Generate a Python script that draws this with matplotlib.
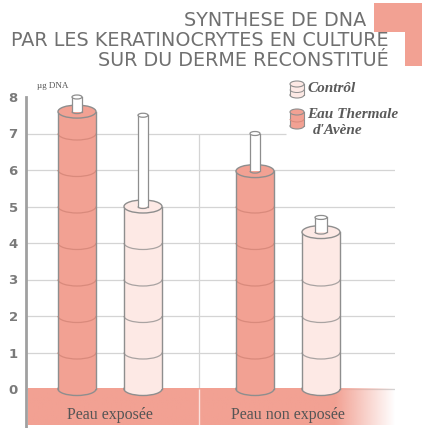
import matplotlib
matplotlib.use("Agg")
import matplotlib.pyplot as plt
import numpy as np
from matplotlib.patches import Ellipse, Rectangle, Arc, Polygon

# data
groups = ["Peau exposée", "Peau non exposée"]
series = ["Contrôl", "Eau Thermale\nd'Avène"]
eau_values = [7.6, 5.97]
eau_err_top = [8.0, 7.0]
ctrl_values = [5.0, 4.3]
ctrl_err_top = [7.5, 4.7]
y_ticks = [0, 1, 2, 3, 4, 5, 6, 7, 8]

RED = "#f2a193"
PINK = "#fde9e5"
EDGE = "#8e8e8e"
GRID = "#d4d4d4"
TEXT = "#707070"

W, H = 422, 428
fig = plt.figure(figsize=(W / 100, H / 100), dpi=100)

# decorative overlay in pixel coordinates (y up)
deco = fig.add_axes([0, 0, 1, 1])
deco.set_xlim(0, W)
deco.set_ylim(0, H)
deco.axis("off")
deco.add_patch(Polygon([(374, H - 3), (W, H - 3), (W, H - 66), (405, H - 66),
                        (405, H - 32), (374, H - 32)], closed=True, color=RED, lw=0))


def cylinder(ax, x, top, width, eh, face, seg_color, bottom=0.0, segments=True, lw=1.0, z=3):
    ax.add_patch(Ellipse((x, bottom), width, eh, facecolor=face, edgecolor=EDGE, lw=lw, zorder=z))
    ax.add_patch(Rectangle((x - width / 2, bottom), width, top - bottom, facecolor=face,
                           edgecolor="none", zorder=z))
    ax.plot([x - width / 2] * 2, [bottom, top], color=EDGE, lw=lw, zorder=z + 0.2, clip_on=False)
    ax.plot([x + width / 2] * 2, [bottom, top], color=EDGE, lw=lw, zorder=z + 0.2, clip_on=False)
    if segments:
        k = bottom + 1
        while k < top - 0.3:
            ax.add_patch(Arc((x, k), width, eh, theta1=180, theta2=360, color=seg_color,
                             lw=0.9, zorder=z + 0.1))
            k += 1
    ax.add_patch(Ellipse((x, top), width, eh, facecolor=face, edgecolor=EDGE, lw=lw, zorder=z + 0.3))


def stick(ax, x, base, top, width, eh):
    ax.add_patch(Rectangle((x - width / 2, base), width, top - base, facecolor="white",
                           edgecolor="none", zorder=4))
    ax.plot([x - width / 2] * 2, [base, top], color=EDGE, lw=0.9, zorder=4.1)
    ax.plot([x + width / 2] * 2, [base, top], color=EDGE, lw=0.9, zorder=4.1)
    ax.add_patch(Arc((x, base), width, eh, theta1=180, theta2=360, color=EDGE, lw=0.9, zorder=4.1))
    ax.add_patch(Ellipse((x, top), width, eh, facecolor="white", edgecolor=EDGE, lw=0.9, zorder=4.2))


# legend icons (pixel coords)
cylinder(deco, 297, H - 84, 14, 6, PINK, EDGE, bottom=H - 95, segments=False, lw=0.8)
deco.add_patch(Arc((297, H - 89.5), 14, 6, theta1=180, theta2=360, color=EDGE, lw=0.7, zorder=3.2))
cylinder(deco, 297, H - 112, 14, 6, RED, "#d98a7c", bottom=H - 126, segments=False, lw=0.8)
deco.add_patch(Arc((297, H - 119), 14, 6, theta1=180, theta2=360, color="#d98a7c", lw=0.7, zorder=3.2))
legend_style = dict(fontsize=11, family="Liberation Serif", style="italic", weight="bold",
                    color="#5a5a5a", va="center")
fig.text(307 / W, 1 - 88 / H, series[0], **legend_style)
eau_lines = series[1].split("\n")
fig.text(307 / W, 1 - 114 / H, eau_lines[0], **legend_style)
fig.text(313 / W, 1 - 131 / H, eau_lines[1], **legend_style)

# titles
for txt, xx, yy in [("SYNTHESE DE DNA", 366, 20), ("PAR LES KERATINOCRYTES EN CULTURE", 389, 41),
                    ("SUR DU DERME RECONSTITUÉ", 389, 61)]:
    fig.text(xx / W, 1 - yy / H, txt, fontsize=13.8, family="DejaVu Sans", color=TEXT,
             ha="right", va="center", zorder=5)
fig.text(37 / W, 1 - 86 / H, "µg DNA", fontsize=6.5, family="Liberation Serif",
         color="#555555", va="center")

# main data axes
px_per_unit_y = 36.5
px_per_unit_x = 178.0
y0_px = 389
x0_px = 110
left_px, right_px = 26, 395
ymin, ymax = -1.0, 8.3
ax = fig.add_axes([left_px / W, 1 - (y0_px - ymin * px_per_unit_y) / H,
                   (right_px - left_px) / W, (ymax - ymin) * px_per_unit_y / H])
ax.patch.set_alpha(0)
xl = (left_px - x0_px) / px_per_unit_x
xr = (right_px - x0_px) / px_per_unit_x
ax.set_xlim(xl, xr)
ax.set_ylim(ymin, ymax)
for s in ax.spines.values():
    s.set_visible(False)
ax.set_xticks([])
ax.set_yticks(y_ticks)
ax.set_yticklabels([str(t) for t in y_ticks], fontsize=9.5, weight="bold",
                   family="DejaVu Sans", color="#7a7a7a")
ax.tick_params(axis="y", length=0, pad=6)

# grid
xsep = 0.5
for t in y_ticks[:-1]:
    xend = 0.99 if t == 7 else xr
    ax.hlines(t, xl, xend, color=GRID, lw=0.9, zorder=1)
ax.vlines(xsep, 0, 7, color=GRID, lw=0.9, zorder=1)
ax.plot([xl, xl], [8, -1.2], color="#a0a0a0", lw=2, clip_on=False, zorder=2)

# salmon band with fade on the right
fade_start = (335 - x0_px) / px_per_unit_x
grad = np.ones((2, 200, 4))
rgb = np.array(matplotlib.colors.to_rgb(RED))
grad[..., :3] = rgb
xs = np.linspace(xl, xr, 200)
alpha = np.clip(1 - (xs - fade_start) / (xr - fade_start), 0, 1)
grad[..., 3] = alpha
ax.imshow(grad, extent=[xl + 0.01, xr, ymin, 0], aspect="auto", zorder=1.5,
          interpolation="bilinear")
ax.vlines(xsep, ymin, 0, color="white", lw=1, alpha=0.7, zorder=1.6)

# cylinders
off = 33 / px_per_unit_x
bw = 38 / px_per_unit_x
eh = 13 / px_per_unit_y
sw = 10 / px_per_unit_x
for i in range(len(groups)):
    cylinder(ax, i - off, eau_values[i], bw, eh, RED, "#d98a7c")
    stick(ax, i - off, eau_values[i], eau_err_top[i], sw, 4 / px_per_unit_y)
    cylinder(ax, i + off, ctrl_values[i], bw, eh, PINK, "#a9a3a2")
    stick(ax, i + off, ctrl_values[i], ctrl_err_top[i], sw * (1.2 if i == 1 else 1.0),
          4 / px_per_unit_y)
    ax.text(i, -0.72, groups[i], ha="center", va="center", fontsize=11.5,
            family="Liberation Serif", color="#555555", zorder=6)

fig.savefig("out.png", dpi=100)
